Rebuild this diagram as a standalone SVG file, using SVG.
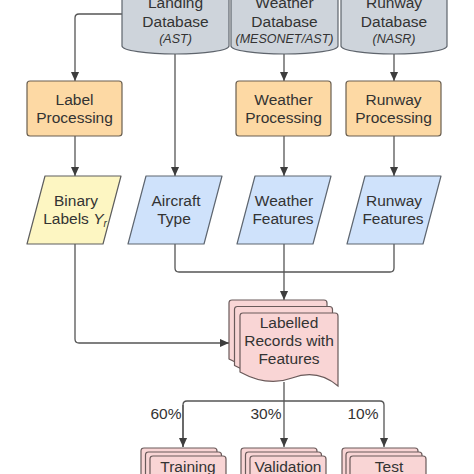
<svg xmlns="http://www.w3.org/2000/svg" width="474" height="474" viewBox="0 0 474 474">
<defs>
<style>
text{font-family:"Liberation Sans",Arial,sans-serif;font-size:15.5px;fill:#333;text-anchor:middle}
.it{font-style:italic;font-size:12.5px}
.db{fill:#ced4db;stroke:#5e646c;stroke-width:1.2}
.proc{fill:#fdd9a4;stroke:#6a5f50;stroke-width:1.2}
.yel{fill:#fdf6c2;stroke:#5e5e5e;stroke-width:1.2;stroke-linejoin:round}
.blue{fill:#cfe2fb;stroke:#5e6670;stroke-width:1.2;stroke-linejoin:round}
.pink{fill:#f9d5d5;stroke:#6a5a5a;stroke-width:1.2}
.c{fill:none;stroke:#555;stroke-width:1.3}
</style>
<marker id="ah" viewBox="0 0 10 10" refX="10" refY="5" markerWidth="9" markerHeight="9" markerUnits="userSpaceOnUse" orient="auto">
<path d="M0,0.5 L10,5 L0,9.5 Z" fill="#3d3d3d"/>
</marker>
<path id="docshape" d="M0,3 Q0,0 3,0 H95 Q98,0 98,3 V73 C84,61 68,59 52,65 C36,71 20,70 0,59 Z"/>
<path id="cardshape" d="M0,3 Q0,0 3,0 H73 Q76,0 76,3 V30 H0 Z"/>
</defs>

<g id="connectors">
<path class="c" d="M122,14 H79 Q75,14 75,18 V81" marker-end="url(#ah)"/>
<path class="c" d="M175,54 V176" marker-end="url(#ah)"/>
<path class="c" d="M284,52 V81" marker-end="url(#ah)"/>
<path class="c" d="M394,52 V81" marker-end="url(#ah)"/>
<path class="c" d="M75,136 V176" marker-end="url(#ah)"/>
<path class="c" d="M284,136 V176" marker-end="url(#ah)"/>
<path class="c" d="M394,136 V176" marker-end="url(#ah)"/>
<path class="c" d="M75,244 V339 Q75,343 79,343 H229" marker-end="url(#ah)"/>
<path class="c" d="M175,244 V268 Q175,272 179,272 H390 Q394,272 394,268 V244"/>
<path class="c" d="M284,244 V300" marker-end="url(#ah)"/>
<path class="c" d="M284,382 V401"/>
<path class="c" d="M183,447 V405 Q183,401 187,401 H380 Q384,401 384,405 V447" marker-end="url(#ah)"/>
<path class="c" d="M183,405 V447" marker-end="url(#ah)"/>
<path class="c" d="M284,401 V447" marker-end="url(#ah)"/>
</g>

<g id="landing-db">
<path class="db" d="M122,-10 V46 A53.5 8 0 0 0 229,46 V-10"/>
<text x="175.5" y="8">Landing</text>
<text x="175.5" y="27">Database</text>
<text class="it" x="175.5" y="43">(AST)</text>
</g>
<g id="weather-db">
<path class="db" d="M231,-10 V46 A53.5 8 0 0 0 338,46 V-10"/>
<text x="284.5" y="8">Weather</text>
<text x="284.5" y="27">Database</text>
<text class="it" x="284.5" y="43">(MESONET/AST)</text>
</g>
<g id="runway-db">
<path class="db" d="M341,-10 V46 A53 8 0 0 0 447,46 V-10"/>
<text x="394" y="8">Runway</text>
<text x="394" y="27">Database</text>
<text class="it" x="394" y="43">(NASR)</text>
</g>

<g id="label-processing">
<rect class="proc" x="27" y="81" width="95" height="55" rx="3"/>
<text x="74.5" y="105">Label</text>
<text x="74.5" y="123">Processing</text>
</g>
<g id="weather-processing">
<rect class="proc" x="236" y="81" width="95" height="55" rx="3"/>
<text x="283.5" y="105">Weather</text>
<text x="283.5" y="123">Processing</text>
</g>
<g id="runway-processing">
<rect class="proc" x="346" y="81" width="95" height="55" rx="3"/>
<text x="393.5" y="105">Runway</text>
<text x="393.5" y="123">Processing</text>
</g>

<g id="binary-labels">
<path class="yel" d="M45,176 H121 L103,244 H27 Z"/>
<text x="76" y="206">Binary</text>
<text x="75" y="224">Labels <tspan font-style="italic">Y</tspan><tspan font-style="italic" font-size="10" dy="3">r</tspan></text>
</g>
<g id="aircraft-type">
<path class="blue" d="M146,176 H222 L204,244 H128 Z"/>
<text x="176" y="206">Aircraft</text>
<text x="174" y="224">Type</text>
</g>
<g id="weather-features">
<path class="blue" d="M255,176 H331 L313,244 H237 Z"/>
<text x="284" y="206">Weather</text>
<text x="283" y="224">Features</text>
</g>
<g id="runway-features">
<path class="blue" d="M365,176 H441 L423,244 H347 Z"/>
<text x="394" y="206">Runway</text>
<text x="393" y="224">Features</text>
</g>

<g id="labelled-records">
<use href="#docshape" class="pink" transform="translate(229,300)"/>
<use href="#docshape" class="pink" transform="translate(234.5,306.5)"/>
<use href="#docshape" class="pink" transform="translate(240,313)"/>
<text x="289" y="328">Labelled</text>
<text x="289" y="346">Records with</text>
<text x="289" y="364">Features</text>
</g>

<g id="split-labels">
<text x="166" y="419">60%</text>
<text x="266" y="419">30%</text>
<text x="363" y="419">10%</text>
</g>

<g id="training">
<use href="#cardshape" class="pink" transform="translate(141,448)"/>
<use href="#cardshape" class="pink" transform="translate(145.5,452)"/>
<use href="#cardshape" class="pink" transform="translate(150,456)"/>
<text x="188" y="472">Training</text>
</g>
<g id="validation">
<use href="#cardshape" class="pink" transform="translate(241,448)"/>
<use href="#cardshape" class="pink" transform="translate(245.5,452)"/>
<use href="#cardshape" class="pink" transform="translate(250,456)"/>
<text x="288" y="472">Validation</text>
</g>
<g id="test">
<use href="#cardshape" class="pink" transform="translate(342,448)"/>
<use href="#cardshape" class="pink" transform="translate(346,452)"/>
<use href="#cardshape" class="pink" transform="translate(350,456)"/>
<text x="389" y="472">Test</text>
</g>
</svg>
